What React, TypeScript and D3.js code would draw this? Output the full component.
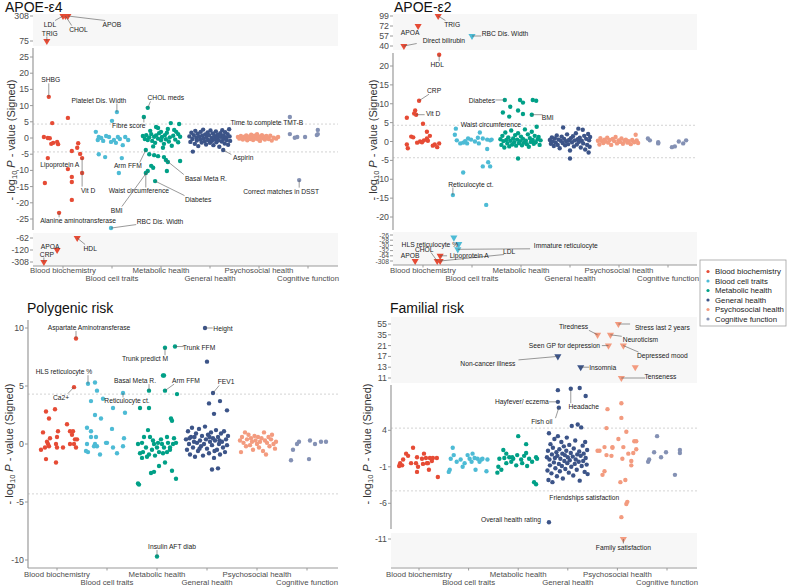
import React from "react";
import * as d3 from "d3";

const CATEGORIES = ["Blood biochemistry", "Blood cell traits", "Metabolic health", "General health", "Psychosocial health", "Cognitive function"];
const COLORS = ["#E64B35", "#4DBBD5", "#00A087", "#3C5488", "#F39B7F", "#8491B4"];

type Pt = [number, number]; // [offset within category, signed -log10 P]
type Lab = [number, number, number, string]; // [category index, offset, value, text]

// ---------------- APOE-e4 ----------------
const e4Bio: Pt[] = [[-0.22,4.6],[0.10,6.2],[-0.39,0.3],[-0.31,0.0],[-0.27,-0.1],[-0.2,-1.5],[-0.12,-1.2],[-0.1,-1.9],[-0.24,-1.8],[0.31,-1.6],[0.29,-3.0],[0.10,-9.6],[0.18,-4.0],[0.35,-4.9],[-0.37,-13.9],[0.18,-13.6],[0.18,-12.0],[0.39,-10.8],[0.18,-19.1]];
const e4Cell: Pt[] = [[0.0,5.3],[-0.33,1.9],[-0.27,0.3],[-0.22,0],[-0.06,0.3],[-0.02,-1.2],[0.04,-0.6],[0.12,0.3],[0.27,0.3],[0.33,-0.6],[0.22,-2.2],[-0.29,-0.6],[0.08,-1.5],[-0.27,-5.0],[-0.14,-5.9],[0.2,-6.2],[0.14,-10.8],[-0.12,0.6],[0.16,-0.3],[-0.18,-0.9]];
const e4Met: Pt[] = [[-0.06,3.1],[0.2,4.6],[0.37,4.3],[0,1.9],[0.27,2.5],[0.35,1.2],[-0.1,3.4],[-0.37,0.6],[-0.33,-0.3],[-0.3,0.9],[-0.27,-0.6],[-0.24,0.2],[-0.2,1.2],[-0.18,-0.9],[-0.14,0.4],[-0.12,-1.5],[-0.1,0.8],[-0.06,-0.2],[-0.04,1.5],[0.0,-0.7],[0.02,0.3],[0.06,-1.8],[0.08,0.9],[0.1,-0.4],[0.12,1.6],[0.16,-1.1],[0.18,0.2],[0.22,-2.4],[0.25,0.7],[0.29,-0.5],[0.31,1.9],[0.35,-1.3],[0.39,0.4],[-0.16,-2.6],[0.04,-3.0],[0.14,2.8],[-0.22,2.2],[-0.24,-5.0],[-0.14,-5.3],[-0.06,-5.6],[0.06,-5.9],[0.14,-7.4],[0.39,-7.1],[-0.2,-8.6],[-0.16,-9.2],[0.12,-10.2]];
const e4Gen: Pt[] = [[-0.42,0.5],[-0.4,-1.2],[-0.38,1.6],[-0.36,-0.3],[-0.35,-4.2],[-0.33,0.9],[-0.31,-1.8],[-0.3,2.2],[-0.28,0.1],[-0.27,-0.8],[-0.25,1.3],[-0.24,-2.5],[-0.22,0.4],[-0.2,-0.5],[-0.19,1.9],[-0.17,-1.4],[-0.16,0.7],[-0.14,2.6],[-0.13,-0.2],[-0.11,-1.0],[-0.1,1.1],[-0.08,-2.0],[-0.07,0.3],[-0.05,1.7],[-0.04,-0.6],[-0.02,0.9],[0,-1.5],[0.01,2.3],[0.03,0.0],[0.04,-0.9],[0.06,1.4],[0.07,-2.2],[0.09,0.6],[0.1,-0.4],[0.12,2.0],[0.13,-1.3],[0.15,0.2],[0.16,1.0],[0.18,-0.7],[0.19,-2.7],[0.21,1.5],[0.22,0.4],[0.24,-1.1],[0.25,2.4],[0.27,-0.3],[0.28,0.8],[0.3,-1.7],[0.31,1.8],[0.33,0.1],[0.34,-0.6],[0.36,1.2],[0.37,-2.1],[0.39,2.7],[0.4,0.5],[0.41,-0.9]];
const e4Psy: Pt[] = [[-0.43,0.3],[-0.4,-0.2],[-0.37,0.6],[-0.35,0.0],[-0.33,-0.5],[-0.3,0.4],[-0.28,-0.1],[-0.26,0.8],[-0.24,-0.7],[-0.22,0.2],[-0.2,0.5],[-0.18,-0.3],[-0.16,1.0],[-0.14,0.1],[-0.12,-0.6],[-0.1,0.7],[-0.08,-0.2],[-0.06,0.3],[-0.04,1.2],[-0.02,-0.4],[0,0.5],[0.02,-0.9],[0.04,0.2],[0.06,0.9],[0.08,-0.1],[0.1,0.4],[0.12,-0.5],[0.15,0.6],[0.18,0.0],[0.2,-0.3],[0.23,0.7],[0.26,-0.8],[0.3,0.1],[0.35,-0.2],[0.39,0.3]];
const e4Cog: Pt[] = [[-0.37,1.2],[-0.22,0.3],[-0.06,0.3],[0.2,2.5],[0.2,1.2],[0.18,0.9],[-0.27,0.1]];
const e4Labels: Lab[] = [
  [0,-0.29,12.7,"SHBG"],[0,-0.31,-6.2,"Lipoprotein A"],[0,0.39,-6.2,"Vit D"],[0,-0.08,-23.1,"Alanine aminotransferase"],
  [0,0.29,-62,"HDL"],[0,-0.12,-120,"APOA"],[0,-0.39,-308,"CRP"],[0,0.0,308,"LDL"],[0,0.05,308,"CHOL"],[0,0.1,308,"APOB"],[0,-0.33,75,"TRIG"],
  [1,0.1,8.0,"Platelet Dis. Width"],[1,-0.02,-27.8,"RBC Dis. Width"],
  [2,-0.27,9.3,"CHOL meds"],[2,-0.35,6.5,"Fibre score"],[2,-0.31,-3.7,"Arm FFM"],[2,0.1,-6.8,"Basal Meta R."],[2,-0.31,-10.8,"Waist circumference"],[2,-0.27,-10.2,"BMI"],[2,-0.12,-13.3,"Diabetes"],
  [3,0.27,-3.7,"Aspirin"],
  [5,-0.37,6.5,"Time to complete TMT-B"],[5,-0.18,-13.0,"Correct matches in DSST"],
];
const e4TopTicks = [308, 75];
const e4MainTicks = [25, 20, 15, 10, 5, 0, -5, -10, -15, -20, -25];
const e4BottomTicks = [-62, -120, -308];

// ---------------- APOE-e2 ----------------
const e2Bio: Pt[] = [[-0.16,8.2],[-0.18,7.4],[-0.33,6.3],[0,4.7],[-0.24,1.3],[-0.2,1.1],[-0.06,0],[-0.02,-0.2],[0.08,0.8],[0.1,0.2],[0.2,-1.1],[0.29,-1.5],[0.33,-0.5],[-0.33,-0.8],[-0.31,-1.8],[0.14,1.5],[0.02,0.3],[0.08,2.6],[0.24,-0.8],[-0.12,-0.3]];
const e2Cell: Pt[] = [[-0.35,1.8],[-0.31,0.3],[-0.24,-0.5],[-0.18,-0.3],[-0.1,-0.5],[-0.08,0.8],[0.06,0],[0.12,1.0],[0.16,2.4],[0.22,0.8],[0.31,0.5],[0.37,0.3],[0.4,0.5],[0.31,-2.0],[0.14,-0.5],[0.33,-5.5],[0.37,-6.6],[0.22,-6.6],[-0.18,-8.2],[0.29,-16.8],[-0.02,0.5],[-0.14,0.1],[-0.27,-29.5]];
const e2Met: Pt[] = [[-0.22,9.2],[-0.37,7.7],[-0.24,6.6],[-0.06,8.2],[-0.02,11.0],[0.04,10.3],[0.24,11.0],[0.31,10.8],[0.04,7.3],[-0.06,-4.5],[-0.42,0.6],[-0.4,-0.9],[-0.38,1.5],[-0.36,0.1],[-0.34,-1.6],[-0.32,2.4],[-0.3,0.4],[-0.28,-0.5],[-0.26,1.1],[-0.24,-1.3],[-0.22,0.2],[-0.2,2.9],[-0.18,-0.8],[-0.16,0.8],[-0.14,-0.2],[-0.12,1.7],[-0.1,-1.1],[-0.08,0.5],[-0.06,2.2],[-0.04,-0.4],[-0.02,0.1],[0,1.3],[0.02,-1.0],[0.04,0.7],[0.06,-0.3],[0.08,3.2],[0.1,0.2],[0.12,-0.7],[0.14,1.9],[0.16,-1.4],[0.18,0.9],[0.2,-0.1],[0.22,2.6],[0.24,0.4],[0.26,-0.6],[0.28,1.5],[0.3,-0.2],[0.32,3.9],[0.34,0.6],[0.36,1.2],[0.38,-0.9],[0.4,0.3]];
const e2Gen: Pt[] = [[-0.41,0.4],[-0.39,-0.6],[-0.37,1.1],[-0.35,0.0],[-0.33,-1.2],[-0.31,0.8],[-0.29,-0.3],[-0.27,1.6],[-0.25,-0.9],[-0.23,0.5],[-0.21,-1.8],[-0.19,0.2],[-0.17,1.3],[-0.15,-0.4],[-0.14,3.7],[-0.12,0.7],[-0.1,-1.0],[-0.08,0.1],[-0.06,1.9],[-0.04,-0.7],[-0.02,0.4],[0,-2.4],[0.02,0.9],[0.04,-0.2],[0.06,1.4],[0.08,-1.3],[0.1,0.3],[0.12,2.2],[0.14,-0.8],[0.16,0.6],[0.17,3.4],[0.18,-0.1],[0.2,1.0],[0.22,-1.6],[0.24,0.2],[0.26,3.1],[0.27,-0.5],[0.29,1.5],[0.31,-2.1],[0.33,0.7],[0.35,-0.9],[0.37,2.0],[0.38,-2.9],[0.39,0.3],[0.4,-1.4],[0.41,1.2],[0,-4.5]];
const e2Psy: Pt[] = [[-0.43,0.2],[-0.4,-0.8],[-0.38,0.9],[-0.35,0.1],[-0.32,-0.4],[-0.3,0.5],[-0.27,0.0],[-0.24,1.0],[-0.22,-0.3],[-0.19,0.4],[-0.16,-0.9],[-0.13,0.7],[-0.1,0.1],[-0.07,1.2],[-0.04,-0.5],[-0.01,0.3],[0.02,-0.1],[0.05,0.8],[0.08,-0.6],[0.11,0.2],[0.14,0.5],[0.17,-0.3],[0.2,0.1],[0.24,-0.7],[0.27,0.4],[0.31,-0.2],[0.34,1.8],[0.36,0.3],[0.39,-0.4]];
const e2Cog: Pt[] = [[-0.41,0.8],[-0.37,0.3],[-0.2,-0.5],[-0.2,-0.2],[0.08,-1.5],[0.14,-1.3],[0.22,0],[0.31,-0.5],[0.37,0.3]];
const e2Labels: Lab[] = [
  [0,0.33,23,"HDL"],[0,-0.08,10.8,"CRP"],[0,-0.14,7.1,"Vit D"],[0,-0.1,72,"APOA"],[0,0.31,99,"TRIG"],[0,-0.39,40,"Direct bilirubin"],
  [0,-0.16,-308,"APOB"],[0,0.29,-308,"CHOL"],[0,0.35,-308,"LDL"],[0,0.35,-64,"Lipoprotein A"],
  [1,-0.33,3.4,"Waist circumference"],[1,-0.39,-14.2,"Reticulocyte ct."],[1,0,57,"RBC Dis. Width"],[1,-0.37,-27,"HLS reticulocyte %"],[1,-0.29,-31.5,"Immature reticulocyte"],
  [2,-0.33,11.0,"Diabetes"],[2,0.22,7.1,"BMI"],
];
const e2TopTicks = [99, 72, 57, 40];
const e2MainTicks = [20, 15, 10, 5, 0, -5, -10, -15, -20];
const e2BottomTicks = [-26, -28, -30, -32, -64, -308];

// ---------------- Polygenic risk ----------------
const pBio: Pt[] = [[-0.04,3.0],[-0.22,2.8],[-0.16,2.2],[0.2,1.7],[-0.28,1.0],[0.02,1.1],[0.26,1.1],[0.32,1.1],[-0.14,0.5],[0,0.6],[0.3,0.8],[0.36,0.4],[0.4,0.4],[-0.2,0.2],[-0.18,0],[-0.16,-0.2],[-0.24,-0.3],[-0.02,0],[0.12,-0.3],[0.26,0],[0.34,0],[0.38,-0.3],[-0.32,-0.5],[-0.22,-1.3],[-0.02,-1.6],[0,-0.3]];
const pCell: Pt[] = [[-0.24,5.3],[-0.2,4.6],[-0.32,3.7],[-0.08,3.9],[0.12,3.1],[0.36,2.7],[-0.24,2.5],[-0.12,2.2],[-0.4,1.4],[-0.32,1.1],[0.1,1.3],[-0.4,0],[-0.32,0.6],[-0.22,0.6],[-0.24,0],[-0.2,-0.2],[-0.02,0.1],[0,0.1],[0.12,-0.3],[0.2,-0.8],[0.34,0.5],[0.32,-0.2],[-0.42,-0.6],[-0.38,-0.7],[-0.14,-0.9],[-0.26,-0.2]];
const pMet: Pt[] = [[0.12,5.9],[0.14,5.9],[0.4,4.3],[-0.34,3.1],[-0.16,3.1],[0.28,2.2],[0.3,2.0],[-0.38,0],[-0.3,0.1],[-0.26,0.6],[-0.18,1.2],[-0.22,-0.3],[-0.14,0.6],[-0.08,0.3],[-0.06,0],[0,-0.3],[0.02,0.1],[0.08,0.4],[0.1,0],[0.14,-0.3],[0.2,0.6],[0.22,0.1],[0.26,-0.3],[0.32,0],[0.34,0.5],[0.38,0.1],[-0.34,-0.8],[-0.28,-0.7],[-0.16,-0.9],[-0.1,-0.5],[-0.04,-1.0],[0.04,-0.7],[0.12,-0.8],[0.2,-0.7],[0.26,-0.5],[-0.2,-1.1],[-0.3,-1.2],[-0.38,-3.4],[-0.36,-3.5],[-0.12,-2.5],[-0.06,-2.4],[0.04,-1.9],[0.16,-1.6],[0.3,-2.3],[0.38,-3.0]];
const pGen: Pt[] = [[0,7.1],[0.04,3.5],[0.26,3.7],[0.4,2.9],[0.14,2.6],[0.1,-2.2],[0.22,-2.1],[-0.42,0.4],[-0.4,-0.5],[-0.38,1.1],[-0.36,0.0],[-0.34,-0.9],[-0.32,0.6],[-0.3,1.4],[-0.28,-0.3],[-0.26,0.2],[-0.24,-1.1],[-0.22,0.9],[-0.2,0.1],[-0.18,-0.6],[-0.16,1.3],[-0.14,0.3],[-0.12,-0.2],[-0.1,0.7],[-0.08,-1.0],[-0.06,0.0],[-0.04,1.5],[-0.02,0.4],[0,-0.4],[0.02,0.8],[0.04,-0.8],[0.06,0.2],[0.08,1.0],[0.1,-0.1],[0.12,0.5],[0.14,-1.2],[0.16,0.3],[0.18,1.2],[0.2,-0.5],[0.22,0.6],[0.24,0.0],[0.26,-0.9],[0.28,0.9],[0.3,0.2],[0.32,-0.3],[0.34,1.1],[0.36,-0.7],[0.38,0.4],[0.4,-0.1],[0.42,0.7],[-0.35,0.5],[-0.15,-0.4],[0.05,0.6],[0.25,0.3],[-0.25,0.6],[0.15,-0.6]];
const pPsy: Pt[] = [[-0.34,0.3],[-0.32,-0.7],[-0.3,0.6],[-0.27,0.1],[-0.24,1.0],[-0.22,-0.2],[-0.2,0.4],[-0.17,0.8],[-0.14,-0.1],[-0.12,0.5],[-0.1,0.2],[-0.08,-0.5],[-0.05,0.7],[-0.03,0.3],[0,0.0],[0.02,0.6],[0.04,-0.3],[0.06,0.2],[0.09,0.5],[0.12,-0.6],[0.14,1.0],[0.16,0.3],[0.18,-0.9],[0.2,0.1],[0.23,0.6],[0.25,-0.2],[0.28,0.4],[0.3,0.8],[0.33,0.0],[0.36,-0.4],[0.38,0.2]];
const pCog: Pt[] = [[-0.32,-1.4],[-0.28,-0.5],[-0.2,0],[-0.16,0.2],[0.04,-1.3],[0.06,0.3],[0.16,0],[0.28,0.2],[0.38,0.2]];
const pLabels: Lab[] = [
  [0,0.38,9.1,"Aspartate Aminotransferase"],[0,0.34,4.9,"Ca2+"],
  [1,-0.38,5.2,"HLS reticulocyte %"],[1,0.32,4.4,"Reticulocyte ct."],
  [2,0.16,8.3,"Trunk predict M"],[2,0.36,8.4,"Trunk FFM"],[2,-0.16,4.6,"Basal Meta R."],[2,0.16,4.6,"Arm FFM"],[2,0,-9.7,"Insulin AFT diab"],
  [3,-0.04,10.0,"Height"],[3,0.12,4.4,"FEV1"],
];
const pMainTicks = [10, 5, 0, -5, -10];

// ---------------- Familial risk ----------------
const fBio: Pt[] = [[-0.38,-0.5],[-0.32,0],[-0.26,0.8],[-0.12,1.6],[-0.22,0.5],[-0.04,0.3],[-0.06,-0.5],[-0.02,-1.0],[-0.04,-1.7],[0.06,0.1],[0.1,0.8],[0.14,0.2],[0.18,-0.5],[0.2,-1.4],[0.22,0.2],[0.28,0.2],[0.36,0.2],[0.38,-2.4],[-0.34,-0.8],[-0.4,-0.9],[-0.16,-0.5],[0.08,-0.6],[0.16,-0.5],[0.26,-0.2]];
const fCell: Pt[] = [[-0.32,1.6],[-0.3,0.6],[-0.36,0.1],[-0.38,-1.4],[-0.4,-1.7],[-0.24,-0.3],[-0.16,0],[-0.12,-1.0],[-0.08,-0.5],[-0.02,0.6],[0.02,0.1],[0.08,0.8],[0.12,0.2],[0.14,-1.4],[0.18,0.1],[0.22,-0.3],[0.28,0.1],[0.36,-1.6],[0.38,0],[0.26,0],[0.06,-0.3]];
const fMet: Pt[] = [[0,3.2],[0.16,2.1],[-0.3,1.3],[-0.24,0.8],[-0.38,0.1],[-0.4,-1.0],[-0.42,-1.8],[-0.34,-1.4],[-0.18,0.3],[-0.1,0.1],[-0.02,0.6],[0.06,0],[0.12,0.5],[0.16,0.9],[0.22,0.1],[0.28,-0.3],[0.36,0.3],[0.38,0.1],[-0.24,-0.5],[-0.14,-0.3],[-0.04,-0.8],[0.32,-3.1],[0.36,-3.4],[-0.28,0.2],[0.08,-0.5],[-0.12,0.3],[0.18,-0.9]];
const fGen: Pt[] = [[-0.2,9.5],[0.24,9.8],[0.36,8.7],[-0.42,0.3],[-0.41,-1.5],[-0.4,1.2],[-0.39,-2.8],[-0.38,3.6],[-0.37,0.0],[-0.36,-0.8],[-0.35,2.1],[-0.33,-1.9],[-0.32,0.7],[-0.31,-3.1],[-0.3,1.6],[-0.28,-0.4],[-0.27,2.8],[-0.26,0.2],[-0.25,-1.2],[-0.23,1.0],[-0.22,-2.3],[-0.21,0.5],[-0.2,3.2],[-0.18,-0.6],[-0.17,1.4],[-0.16,-1.6],[-0.15,0.1],[-0.13,2.4],[-0.12,-0.9],[-0.11,0.8],[-0.1,-2.6],[-0.08,1.8],[-0.07,-0.2],[-0.06,0.6],[-0.05,-1.3],[-0.03,1.2],[-0.02,3.0],[-0.01,-0.5],[0,0.3],[0.02,-1.8],[0.03,2.0],[0.04,-0.1],[0.06,0.9],[0.07,-1.0],[0.08,4.6],[0.1,0.4],[0.11,-2.2],[0.12,1.5],[0.14,-0.6],[0.15,2.6],[0.16,0.0],[0.18,-1.4],[0.19,0.7],[0.2,4.8],[0.22,-0.3],[0.23,1.1],[0.24,-2.9],[0.26,0.5],[0.27,4.4],[0.28,-0.9],[0.3,1.9],[0.31,-0.2],[0.32,0.8],[0.34,-1.7],[0.35,2.4],[0.36,0.2],[0.38,-0.7],[0.39,1.3],[0.4,-2.0]];
const fPsy: Pt[] = [[-0.2,6.9],[0.08,7.7],[0.08,5.7],[-0.22,4.3],[0.18,3.8],[0.02,2.8],[0.34,2.5],[0.38,2.5],[-0.1,1.7],[-0.1,1.6],[-0.26,1.7],[-0.4,1.2],[-0.36,1.2],[0.12,1.7],[0.38,1.4],[0.32,0.9],[0.22,0.8],[-0.22,0.6],[-0.12,0.5],[0.1,0.1],[0.28,-0.2],[0.28,-0.8],[-0.26,-1.6],[-0.3,-2.1],[0.06,-3.1],[0.16,-2.8],[0.18,-6.1],[0.08,-7.9],[0.36,13]];
const fCog: Pt[] = [[-0.2,3.2],[-0.26,1.0],[-0.02,1.0],[0.26,1.3],[0.26,0.9],[-0.12,0.3],[-0.36,0],[-0.38,-0.3],[0.16,-2.1]];
const fLabels: Lab[] = [
  [3,-0.2,7.9,"Hayfever/ eczema"],[3,-0.18,7.1,"Fish oil"],[3,0.06,9.7,"Headache"],[3,-0.38,-8.6,"Overall health rating"],[3,-0.2,17,"Non-cancer illness"],[3,0.26,13,"Insomnia"],
  [4,0.2,-5.8,"Friendships satisfaction"],[4,0.12,-11,"Family satisfaction"],[4,0.02,55,"Stress last 2 years"],[4,-0.4,35,"Tiredness"],[4,-0.14,35,"Neuroticism"],
  [4,-0.18,21,"Seen GP for depression"],[4,0.12,21,"Depressed mood"],[4,0.08,11,"Tenseness"],
];
const fTopTicks = [55, 35, 21, 17, 13, 11];
const fMainTicks = [4, -1, -6];
const fBottomTicks = [-11];

// label placement nudges (pixels, label centre relative to its point)
const NUDGE: Record<string, [number, number]> = {
  "e4|LDL": [-13, 8], "e4|CHOL": [13, 13], "e4|APOB": [44, 8], "e4|TRIG": [3, -8], "e4|SHBG": [2, -17],
  "e4|Platelet Dis. Width": [-18, -12], "e4|CHOL meds": [18, -10], "e4|Fibre score": [-15, 9],
  "e4|Time to complete TMT-B": [-23, 6], "e4|Lipoprotein A": [12, 6], "e4|Vit D": [6, 32], "e4|Arm FFM": [-18, 16],
  "e4|Basal Meta R.": [40, 18], "e4|Waist circumference": [-7, 18], "e4|BMI": [-31, 39], "e4|Diabetes": [43, 18],
  "e4|Alanine aminotransferase": [19, 8], "e4|RBC Dis. Width": [49, -7], "e4|Aspirin": [20, 8],
  "e4|Correct matches in DSST": [-18, 11], "e4|HDL": [13, 10], "e4|APOA": [-7, -4], "e4|CRP": [3, -8],
  "e2|TRIG": [14, 8], "e2|APOA": [-8, 6], "e2|Direct bilirubin": [40, -6], "e2|RBC Dis. Width": [33, -3],
  "e2|HDL": [-2, 10], "e2|CRP": [15, -10], "e2|Vit D": [17, -1], "e2|Diabetes": [-23, 1], "e2|BMI": [16, 3],
  "e2|Waist circumference": [35, -4], "e2|Reticulocyte ct.": [18, -11], "e2|HLS reticulocyte %": [-24, 7],
  "e2|Immature reticulocyte": [108, -4], "e2|Lipoprotein A": [29, 0], "e2|LDL": [69, -10], "e2|APOB": [-5, -6], "e2|CHOL": [-13, -12],
  "pr|Aspartate Aminotransferase": [13, -11], "pr|Ca2+": [-13, 10], "pr|HLS reticulocyte %": [-24, -12],
  "pr|Reticulocyte ct.": [4, 8], "pr|Basal Meta R.": [-14, -10], "pr|Arm FFM": [21, -10], "pr|Trunk predict M": [-20, 11],
  "pr|Trunk FFM": [24, 1], "pr|Height": [18, 0], "pr|FEV1": [13, -11], "pr|Insulin AFT diab": [15, -10],
  "fr|Stress last 2 years": [44, 3], "fr|Tiredness": [-24, -8], "fr|Neuroticism": [30, 5], "fr|Seen GP for depression": [-44, 0],
  "fr|Depressed mood": [39, 10], "fr|Non-cancer illness": [-70, 7], "fr|Insomnia": [22, 0], "fr|Tenseness": [39, -2],
  "fr|Hayfever/ eczema": [-36, 0], "fr|Fish oil": [-17, 14], "fr|Headache": [13, 18], "fr|Friendships satisfaction": [-43, -4],
  "fr|Overall health rating": [-38, -3], "fr|Family satisfaction": [0, 8],
};

type BreakSeg = { ticks: number[]; pos: [number, number]; bg: [number, number] };
type MainSeg = { ticks: number[]; domain: [number, number]; range: [number, number]; axis: [number, number] };
interface PanelCfg {
  id: string; title: string; titlePos: [number, number]; left: number; right: number; xRange: [number, number];
  xAxisY: number; catRows: [number, number]; yLabelPos: [number, number];
  top?: BreakSeg; main: MainSeg; bottom?: BreakSeg; series: Pt[][]; labels: Lab[];
}

const PANELS: PanelCfg[] = [
  { id: "e4", title: "APOE-ε4", titlePos: [5, 12], left: 33, right: 338, xRange: [63, 308], xAxisY: 266, catRows: [270, 278.5], yLabelPos: [11, 140],
    top: { ticks: e4TopTicks, pos: [16, 41], bg: [14, 46] },
    main: { ticks: e4MainTicks, domain: [-25, 25], range: [219, 57], axis: [48, 230] },
    bottom: { ticks: e4BottomTicks, pos: [238, 262], bg: [233, 266] },
    series: [e4Bio, e4Cell, e4Met, e4Gen, e4Psy, e4Cog], labels: e4Labels },
  { id: "e2", title: "APOE-ε2", titlePos: [394, 12], left: 393, right: 697, xRange: [423, 668], xAxisY: 265, catRows: [270, 278.5], yLabelPos: [373, 140],
    top: { ticks: e2TopTicks, pos: [16, 46], bg: [14, 50] },
    main: { ticks: e2MainTicks, domain: [-20, 20], range: [217, 66], axis: [53, 230] },
    bottom: { ticks: e2BottomTicks, pos: [235, 261], bg: [232, 265] },
    series: [e2Bio, e2Cell, e2Met, e2Gen, e2Psy, e2Cog], labels: e2Labels },
  { id: "pr", title: "Polygenic risk", titlePos: [27, 313], left: 28, right: 338, xRange: [57, 307], xAxisY: 568, catRows: [574, 582.5], yLabelPos: [9, 444],
    main: { ticks: pMainTicks, domain: [-10, 10], range: [560, 328], axis: [320, 568] },
    series: [pBio, pCell, pMet, pGen, pPsy, pCog], labels: pLabels },
  { id: "fr", title: "Familial risk", titlePos: [390, 313], left: 391, right: 697, xRange: [419, 667], xAxisY: 568, catRows: [574, 582.5], yLabelPos: [367, 444],
    top: { ticks: fTopTicks, pos: [324, 378], bg: [317, 383] },
    main: { ticks: fMainTicks, domain: [-6, 4], range: [503.3, 430.3], axis: [385, 529] },
    bottom: { ticks: fBottomTicks, pos: [539, 539], bg: [533, 567] },
    series: [fBio, fCell, fMet, fGen, fPsy, fCog], labels: fLabels },
];

const FONT = "'Liberation Sans', Arial, Helvetica, sans-serif";
const THRESH = 4.3;

function breakScale(seg: BreakSeg) {
  const n = seg.ticks.length;
  if (n === 1) return (_v: number) => seg.pos[0];
  const positions = seg.ticks.map((_, i) => seg.pos[0] + (i * (seg.pos[1] - seg.pos[0])) / (n - 1));
  const s = d3.scaleLinear().domain(seg.ticks).range(positions);
  return (v: number) => s(v);
}

const triPath = d3.symbol().type(d3.symbolTriangle).size(22)() as string;

function Panel({ cfg }: { cfg: PanelCfg }) {
  const x = d3.scaleLinear().domain([1, 6]).range(cfg.xRange);
  const yMain = d3.scaleLinear().domain(cfg.main.domain).range(cfg.main.range);
  const yTop = cfg.top ? breakScale(cfg.top) : null;
  const yBot = cfg.bottom ? breakScale(cfg.bottom) : null;
  const topMin = cfg.top ? d3.min(cfg.top.ticks)! : Infinity;
  const botMax = cfg.bottom ? d3.max(cfg.bottom.ticks)! : -Infinity;
  const place = (v: number): [number, boolean] => {
    if (yTop && v >= topMin) return [yTop(v), true];
    if (yBot && v <= botMax) return [yBot(v), true];
    return [yMain(v), false];
  };
  const tickColor = "#4d4d4d";
  const axisColor = "#9a9a9a";
  const tickFont = 8.8;
  const breakTickFont = (seg: BreakSeg) => {
    const n = seg.ticks.length;
    const gap = n > 1 ? Math.abs(seg.pos[1] - seg.pos[0]) / (n - 1) : 20;
    return Math.min(tickFont, gap * 1.3);
  };

  const mark = (ci: number, off: number, v: number, key: string) => {
    const px = x(ci + 1 + off);
    const [py, brk] = place(v);
    return brk ? (
      <path key={key} d={triPath} transform={`translate(${px},${py}) rotate(180)`} fill={COLORS[ci]} />
    ) : (
      <circle key={key} cx={px} cy={py} r={2.2} fill={COLORS[ci]} />
    );
  };

  const breakBlock = (seg: BreakSeg | undefined, ys: ((v: number) => number) | null, k: string) =>
    seg && ys ? (
      <g key={k}>
        <rect x={cfg.left} y={seg.bg[0]} width={cfg.right - cfg.left} height={seg.bg[1] - seg.bg[0]} fill="#f7f7f7" />
        {seg.ticks.map((t) => (
          <g key={t}>
            <line x1={cfg.left - 3} x2={cfg.left} y1={ys(t)} y2={ys(t)} stroke={axisColor} />
            <text x={cfg.left - 4} y={ys(t)} textAnchor="end" dominantBaseline="central" fontSize={breakTickFont(seg)} fill={tickColor}>{t}</text>
          </g>
        ))}
      </g>
    ) : null;

  return (
    <g fontFamily={FONT}>
      <text x={cfg.titlePos[0]} y={cfg.titlePos[1]} fontSize={14} fill="#111">{cfg.title}</text>
      {breakBlock(cfg.top, yTop, "top")}
      {breakBlock(cfg.bottom, yBot, "bot")}
      {[THRESH, -THRESH].map((t) => (
        <line key={t} x1={cfg.left} x2={cfg.right} y1={yMain(t)} y2={yMain(t)} stroke="#c8c8c8" strokeWidth={0.8} strokeDasharray="2,2" />
      ))}
      <line x1={cfg.left} x2={cfg.left} y1={cfg.main.axis[0]} y2={cfg.main.axis[1]} stroke={axisColor} strokeWidth={1.2} />
      {cfg.main.ticks.map((t) => (
        <g key={t}>
          <line x1={cfg.left - 3} x2={cfg.left} y1={yMain(t)} y2={yMain(t)} stroke={axisColor} />
          <text x={cfg.left - 4} y={yMain(t)} textAnchor="end" dominantBaseline="central" fontSize={tickFont} fill={tickColor}>{t}</text>
        </g>
      ))}
      <line x1={cfg.left} x2={cfg.right} y1={cfg.xAxisY} y2={cfg.xAxisY} stroke={axisColor} strokeWidth={1.2} />
      {CATEGORIES.map((c, i) => (
        <g key={c}>
          <line x1={x(i + 1)} x2={x(i + 1)} y1={cfg.xAxisY} y2={cfg.xAxisY + 2.5} stroke={axisColor} />
          <text x={x(i + 1)} y={cfg.catRows[i % 2]} textAnchor="middle" dominantBaseline="central" fontSize={7.8} fill={tickColor}>{c}</text>
        </g>
      ))}
      <text transform={`translate(${cfg.yLabelPos[0]},${cfg.yLabelPos[1]}) rotate(-90)`} textAnchor="middle" dominantBaseline="central" fontSize={11} fill="#333">
        - log<tspan fontSize={7.5} dy={3}>10</tspan><tspan dy={-3}> </tspan><tspan fontStyle="italic">P</tspan> - value (Signed)
      </text>
      {cfg.series.map((pts, ci) => pts.map((p, i) => mark(ci, p[0], p[1], `${ci}-${i}`)))}
      {cfg.labels.map((l, i) => mark(l[0], l[1], l[2], `l-${i}`))}
      {cfg.labels.map((l, i) => {
        const px = x(l[0] + 1 + l[1]);
        const [py] = place(l[2]);
        const nd = NUDGE[`${cfg.id}|${l[3]}`] || [10, -8];
        const lx = px + nd[0];
        const ly = py + nd[1];
        const w = l[3].length * 3.4;
        const cx = Math.max(lx - w / 2, Math.min(lx + w / 2, px));
        const cy = Math.max(ly - 3.5, Math.min(ly + 3.5, py));
        const dist = Math.hypot(cx - px, cy - py);
        return (
          <g key={`a-${i}`}>
            {dist > 4 && <line x1={px} y1={py} x2={cx} y2={cy} stroke="#555" strokeWidth={0.6} />}
            <text x={lx} y={ly} textAnchor="middle" dominantBaseline="central" fontSize={6.7} fill="#222">{l[3]}</text>
          </g>
        );
      })}
    </g>
  );
}

function Legend() {
  const x0 = 700, y0 = 260, rowH = 9.5;
  return (
    <g fontFamily={FONT}>
      <rect x={x0} y={y0} width={86} height={66} fill="#fff" stroke="#a0a0a0" strokeWidth={0.8} />
      {CATEGORIES.map((c, i) => (
        <g key={c}>
          <circle cx={x0 + 8} cy={y0 + 11.5 + i * rowH} r={1.6} fill={COLORS[i]} />
          <text x={x0 + 15} y={y0 + 11.5 + i * rowH} dominantBaseline="central" fontSize={7.8} fill="#222">{c}</text>
        </g>
      ))}
    </g>
  );
}

export default function App() {
  return (
    <svg width={787} height={587} style={{ position: "absolute", left: 0, top: 0, background: "#fff" }}>
      {PANELS.map((p) => (
        <Panel key={p.id} cfg={p} />
      ))}
      <Legend />
    </svg>
  );
}
